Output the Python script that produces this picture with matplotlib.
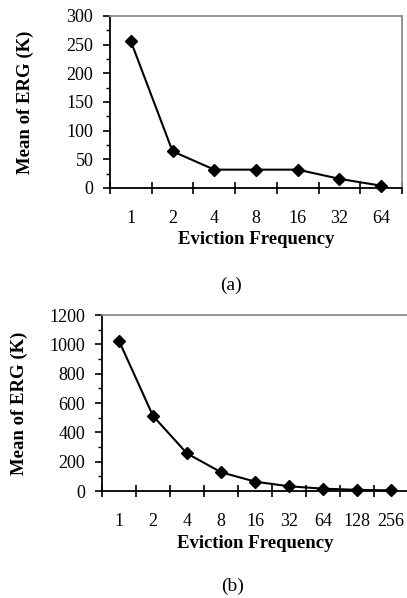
import numpy as np
import matplotlib

matplotlib.use("Agg")
import matplotlib.pyplot as plt
from matplotlib.ticker import FixedLocator, MultipleLocator

plt.rcParams["font.family"] = ["Liberation Serif", "DejaVu Serif"]

# ---- data ----
freq_a = ["1", "2", "4", "8", "16", "32", "64"]
erg_a = [256, 64, 32, 32, 32, 16, 4]

freq_b = ["1", "2", "4", "8", "16", "32", "64", "128", "256"]
erg_b = [1024, 512, 256, 128, 64, 32, 16, 8, 4]

GRAY = "#8c8c8c"
W, H = 407, 598


def panel(rect, cats, vals, ymax, ystep, yminor, caption, cap_x, cap_y, ylab_x):
    ax = fig.add_axes(rect)
    x = np.arange(len(cats))
    ax.plot(x, vals, color="black", lw=1.5, marker="D", ms=6.5, zorder=5, clip_on=False)
    ax.set_xlim(-0.5, len(cats) - 0.5)
    ax.set_ylim(0, ymax)

    # category axis: tick marks between categories, labels at the centres
    ax.xaxis.set_major_locator(FixedLocator(np.arange(len(cats) + 1) - 0.5))
    ax.xaxis.set_minor_locator(FixedLocator(x))
    ax.set_xticklabels([], minor=False)
    ax.set_xticklabels(cats, minor=True)
    ax.tick_params(axis="x", which="major", direction="inout", length=9, width=1.2)
    ax.tick_params(axis="x", which="minor", length=0, pad=15.5, labelsize=13)

    ax.yaxis.set_major_locator(MultipleLocator(ystep))
    ax.yaxis.set_minor_locator(MultipleLocator(yminor))
    ax.tick_params(axis="y", which="major", direction="out", length=5, width=1.2,
                   pad=7, labelsize=13)
    ax.tick_params(axis="y", which="minor", direction="out", length=3, width=1.0)

    for s in ("left", "bottom"):
        ax.spines[s].set_linewidth(1.3)
        ax.spines[s].set_color("black")
    for s in ("top", "right"):
        ax.spines[s].set_linewidth(1.3)
        ax.spines[s].set_color(GRAY)

    ax.set_xlabel("Eviction Frequency", fontsize=13.5, fontweight="bold", va="center")
    ax.xaxis.set_label_coords(0.5, -0.3)
    ax.set_ylabel("Mean of ERG (K)", fontsize=13.5, fontweight="bold", va="center")
    ax.yaxis.set_label_coords(ylab_x, 0.5)

    fig.text(cap_x, cap_y, caption, ha="center", va="center", fontsize=14)
    return ax


fig = plt.figure(figsize=(W / 100, H / 100), dpi=100)

# (a): plot area x 110..402, y 16..188 px
panel([110 / W, 1 - 188 / H, 292 / W, 172 / H], freq_a, erg_a, 300, 50, 25,
      "(a)", 231 / W, 1 - 285 / H, -0.29)
# (b): plot area x 102..408, y 315..491 px
panel([102 / W, 1 - 491 / H, 306 / W, 176 / H], freq_b, erg_b, 1200, 200, 100,
      "(b)", 233 / W, 1 - 586 / H, -0.27)

fig.savefig("out.png", dpi=100)
